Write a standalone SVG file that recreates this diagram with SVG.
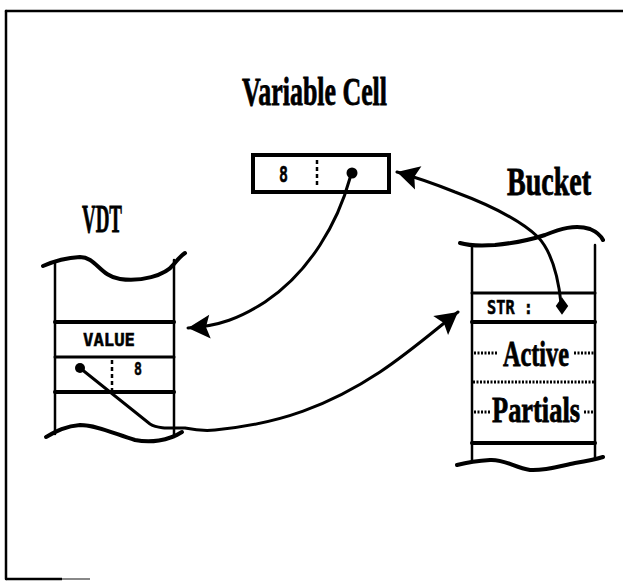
<svg xmlns="http://www.w3.org/2000/svg" width="623" height="582" viewBox="0 0 623 582">
<defs>
<style>
.title{font-family:"Liberation Serif","DejaVu Serif",serif;font-weight:bold;fill:#000;stroke:#000;stroke-width:0.8}
.mono{font-family:"DejaVu Sans Mono","Liberation Mono",monospace;font-weight:bold;fill:#000;stroke:#000;stroke-width:0.5}
.ln{stroke:#000;fill:none;stroke-linecap:round;stroke-linejoin:round}
.thin{stroke-width:2.5}
.thick{stroke-width:4}
.conn{stroke:#000;stroke-width:3;fill:none;stroke-linecap:round}
.dots{stroke:#000;stroke-width:3;stroke-dasharray:2 1.5;fill:none}
.vdash{stroke:#000;stroke-width:2.5;stroke-dasharray:4 3;fill:none}
</style>
<marker id="arr" markerUnits="userSpaceOnUse" markerWidth="30" markerHeight="30" viewBox="0 0 30 30" refX="25" refY="15" orient="auto">
<path d="M25,15 L3,3 L7,15 L3,27 Z" fill="#000"/>
</marker>
</defs>
<rect x="0" y="0" width="623" height="582" fill="#fff"/>
<g id="frame">
<path class="ln thin" d="M6,11 L623,11"/>
<path class="ln thin" d="M6,11 L6,579"/>
<path d="M6,579 L62,579" stroke="#000" stroke-width="2.5"/>
<path d="M62,579 L90,579" stroke="#888" stroke-width="2"/>
</g>
<g id="variable-cell">
<text class="title" x="242" y="105" font-size="40" textLength="145" lengthAdjust="spacingAndGlyphs">Variable Cell</text>
<rect x="253" y="155" width="136" height="37" fill="#fff" stroke="#000" stroke-width="4"/>
<text class="mono" x="279" y="182" font-size="21" textLength="9" lengthAdjust="spacingAndGlyphs">8</text>
<path class="vdash" d="M317,160 L317,188"/>
<circle cx="352" cy="173" r="5.5" fill="#000"/>
</g>
<g id="vdt">
<text class="title" x="82" y="232" font-size="40" textLength="40" lengthAdjust="spacingAndGlyphs">VDT</text>
<path class="ln thick" d="M43,266 C52,262 62,258 80,257 C96,257 100,276 120,279 C140,282 165,276 174,264 C178,259 182,255 185,253"/>
<path class="ln thin" d="M55,262 L55,434"/>
<path class="ln thin" d="M174,260 L174,437"/>
<path class="ln thick" d="M55,322 L174,322"/>
<path class="ln" stroke-width="3" d="M55,357 L174,357"/>
<path class="ln thick" d="M55,392 L174,392"/>
<text class="mono" x="83" y="346" font-size="18" textLength="52" lengthAdjust="spacingAndGlyphs">VALUE</text>
<path class="vdash" d="M112,360 L112,390"/>
<text class="mono" x="134" y="375" font-size="18" textLength="8" lengthAdjust="spacingAndGlyphs">8</text>
<circle cx="80" cy="368" r="5" fill="#000"/>
<path class="ln thick" d="M46,437 C55,432 65,426 80,425 C96,425 115,434 135,440 C150,443 168,441 182,432"/>
</g>
<g id="bucket">
<text class="title" transform="translate(507,195) scale(0.7,1)" x="0" y="0" font-size="40" textLength="120" lengthAdjust="spacingAndGlyphs">Bucket</text>
<path class="ln thick" d="M460,243 C470,246 480,246 495,245 C515,243 530,240 545,235 C560,229 575,224 590,229 C597,232 601,236 603,240"/>
<path class="ln thin" d="M472,245 L472,461"/>
<path class="ln thin" d="M595,245 L595,459"/>
<path class="ln" stroke-width="3" d="M472,293 L595,293"/>
<path class="ln thick" d="M472,322 L595,322"/>
<text class="mono" x="487" y="314" font-size="19" textLength="46" lengthAdjust="spacingAndGlyphs">STR :</text>
<path d="M562,299 L567,306 L562,313 L557,306 Z" fill="#000" stroke="#000" stroke-width="2"/>
<text class="title" x="503" y="366" font-size="36" textLength="66" lengthAdjust="spacingAndGlyphs">Active</text>
<path class="dots" d="M474,353 L497,353"/>
<path class="dots" d="M574,353 L594,353"/>
<path class="dots" d="M473,382 L594,382"/>
<text class="title" x="492" y="422" font-size="36" textLength="88" lengthAdjust="spacingAndGlyphs">Partials</text>
<path class="dots" d="M474,412 L490,412"/>
<path class="dots" d="M584,412 L593,412"/>
<path class="ln thick" d="M472,443 L595,443"/>
<path class="ln thick" d="M457,465 C465,463 475,461 490,460 C505,459 515,468 530,470 C545,471 560,466 575,463 C588,461 597,459 603,457"/>
</g>
<g id="connectors">
<path class="conn" marker-end="url(#arr)" d="M350,178 C338,222 310,272 265,302 C240,318 220,326 188,328"/>
<path class="conn" marker-end="url(#arr)" d="M80,368 L150,424 C158,429 170,428 185,428 C195,430 205,431 215,430 C280,424 330,405 380,372 C410,352 435,330 458,312"/>
<path class="conn" marker-end="url(#arr)" d="M561,303 C558,275 552,252 538,237 C520,220 490,205 455,192 C435,184 415,177 397,172"/>
</g>
</svg>
